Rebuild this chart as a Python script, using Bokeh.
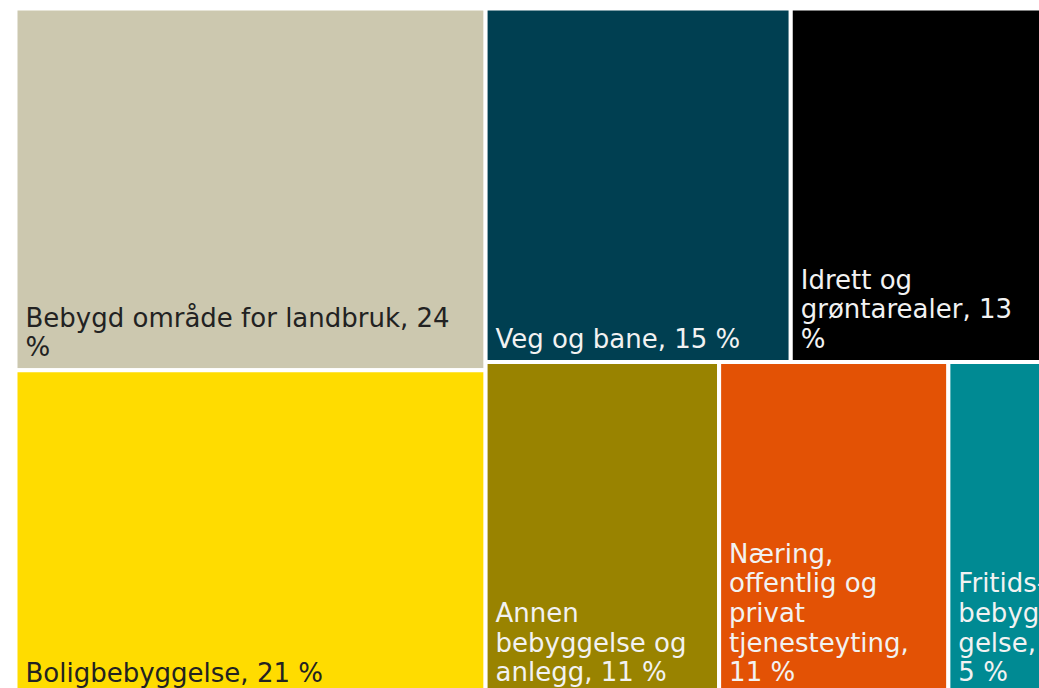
from bokeh.plotting import figure
from bokeh.models import Range1d, ColumnDataSource
from bokeh.core.properties import value
from bokeh.embed import file_html
from bokeh.resources import INLINE

# --- data -------------------------------------------------------------
categories = [
    "Bebygd område for landbruk",
    "Boligbebyggelse",
    "Veg og bane",
    "Idrett og grøntarealer",
    "Annen bebyggelse og anlegg",
    "Næring, offentlig og privat tjenesteyting",
    "Fritidsbebyggelse",
]
shares = [23.8, 21.4, 15.1, 13.1, 10.9, 10.7, 5.0]
labels = [
    "Bebygd område for landbruk, 24\n%",
    "Boligbebyggelse, 21 %",
    "Veg og bane, 15 %",
    "Idrett og\ngrøntarealer, 13\n%",
    "Annen\nbebyggelse og\nanlegg, 11 %",
    "Næring,\noffentlig og\nprivat\ntjenesteyting,\n11 %",
    "Fritids-\nbebyg-\ngelse,\n5 %",
]
colors = ["#CCC8AF", "#FFDC00", "#003F51", "#000000", "#998300", "#E35205", "#008A93"]
text_colors = ["#222222", "#222222", "#F2F2F2", "#F2F2F2", "#F2F2F2", "#F2F2F2", "#F2F2F2"]

# --- treemap layout (screen-pixel data space) --------------------------
X0, Y0, W, H = 15.0, 8.0, 1040.0, 687.0
total = sum(shares)
left_w = W * (shares[0] + shares[1]) / total
rest = sum(shares[2:])
row1 = [2, 3]
row2 = [4, 5, 6]

L, R, T, B = [0.0] * 7, [0.0] * 7, [0.0] * 7, [0.0] * 7
# left column
h0 = H * shares[0] / (shares[0] + shares[1])
L[0], R[0], T[0], B[0] = X0, X0 + left_w, Y0, Y0 + h0
L[1], R[1], T[1], B[1] = X0, X0 + left_w, Y0 + h0, Y0 + H
# right part, two rows
wr = W - left_w
h_r1 = H * sum(shares[i] for i in row1) / rest
for row, top, bot in ((row1, Y0, Y0 + h_r1), (row2, Y0 + h_r1, Y0 + H)):
    s = sum(shares[i] for i in row)
    x = X0 + left_w
    for i in row:
        w = wr * shares[i] / s
        L[i], R[i], T[i], B[i] = x, x + w, top, bot
        x += w

src = ColumnDataSource(dict(
    left=L, right=R, top=T, bottom=B, color=colors,
    tx=[l + 10 for l in L], ty=[b - 8 for b in B],
    label=labels, tcolor=text_colors, cat=categories,
))

p = figure(width=1039, height=688, x_range=Range1d(0, 1039), y_range=Range1d(688, 0),
           x_axis_type=None, y_axis_type=None, toolbar_location=None,
           output_backend="svg", min_border=0)
p.outline_line_color = None
p.grid.visible = False
p.background_fill_color = "white"
p.border_fill_color = "white"

p.quad(left="left", right="right", top="top", bottom="bottom", source=src,
       fill_color="color", line_color="white", line_width=4)
p.text(x="tx", y="ty", text="label", source=src, text_color="tcolor",
       text_font=value("DejaVu Sans"), text_font_size="26px",
       text_align="left", text_baseline="bottom", text_line_height=0.99)

open("out.html", "w").write(file_html(p, INLINE))
